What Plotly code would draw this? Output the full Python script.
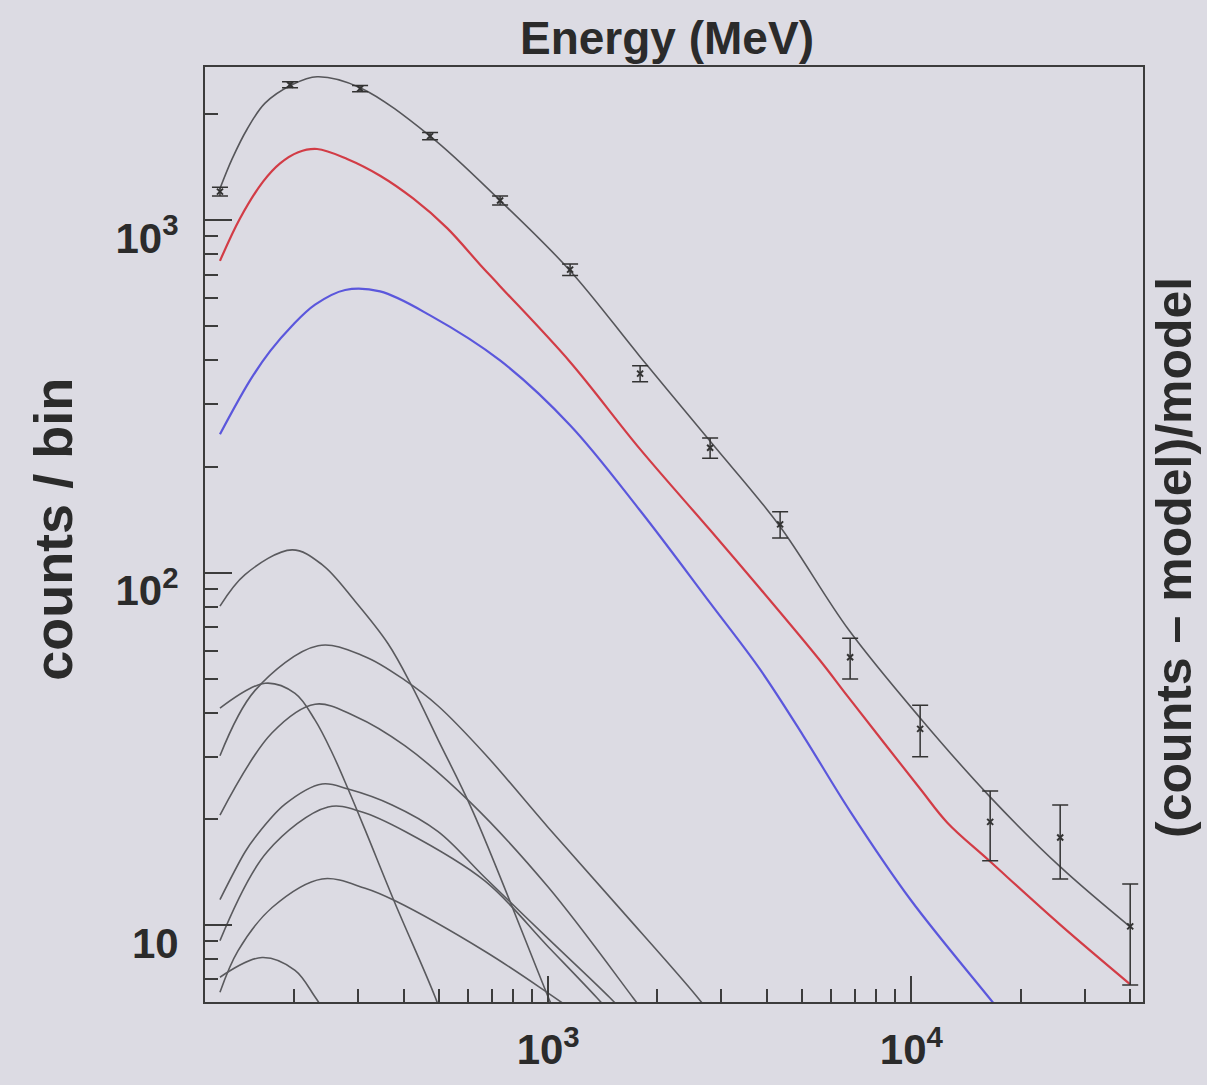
import plotly.graph_objects as go

# ---------------- data ----------------
bin_energy = [124.8, 194.6, 303.4, 472.9, 737.2, 1149.1, 1791.2, 2792.3,
              4352.5, 6784.9, 10576, 16487, 25701, 40063]
counts = [1206, 2425, 2364, 1733, 1138, 724, 367, 226, 137, 57.5, 36, 19.6, 17.7, 9.9]
count_err = [34.7, 49.2, 48.6, 41.6, 33.7, 26.9, 19.2, 15.0, 11.7, 7.6, 6.0, 4.4, 4.2, 3.15]

total_e = [124.8, 134.8, 148.2, 166.1, 197.2, 231, 303.4, 473, 737, 1149, 1791,
           2831, 4329, 6706, 10588, 16400, 25730, 40063]
total_v = [1230, 1493, 1813, 2150, 2425, 2555, 2379, 1733, 1138, 719, 410,
           232, 136, 69, 38.6, 23.2, 14.6, 9.87]

red_e = [124.8, 141.8, 164, 182.7, 205, 231, 279.5, 344.5, 424.7, 527, 649.5, 737,
         1149, 1791, 2792, 3837, 5614, 6706, 10588, 12566, 16400, 25730, 40063]
red_v = [767, 1013, 1287, 1450, 1560, 1593, 1493, 1338, 1153, 950, 748, 650,
         396, 224, 132, 90, 56.2, 44.3, 24.3, 19.5, 15.2, 10, 6.78]

blue_e = [124.8, 151, 171.5, 197.2, 228.1, 276, 344.5, 473, 737, 1149, 1791,
          2792, 3837, 5041, 6784, 9943, 16822, 22668, 40063]
blue_v = [247, 351, 425, 502, 576, 634, 628, 537, 400, 262, 150,
          82, 53, 34.4, 21, 11.8, 6.0, 4.1, 1.8]

compA_e = [124.8, 146.3, 197.2, 238.5, 293.9, 362.4, 421.9, 497.7, 621.5, 1000, 1150]
compA_v = [80.3, 98.7, 116.0, 105.3, 82.9, 62.8, 47.5, 33.5, 20.9, 6.24, 4.4]

compB_e = [124.8, 155.9, 232.5, 313.3, 403.7, 497.7, 670.6, 1000, 1579, 2573, 3172]
compB_v = [30.2, 46.3, 62.0, 57.7, 49.4, 41.8, 30.5, 18.9, 11.1, 6.24, 4.72]

compC_e = [124.8, 166.1, 200.9, 228.1, 254.1, 281.2, 313.3, 378.9, 488.3, 537]
compC_v = [41.2, 48.5, 45.4, 38.1, 30.8, 24.3, 18.6, 11.5, 6.24, 4.72]

compD_e = [124.8, 173.7, 228.1, 293.9, 403.7, 609.7, 1000, 1715, 2035]
compD_v = [20.5, 35.1, 42.3, 39.1, 32.2, 22.3, 12.8, 6.20, 4.88]

compE_e = [124.8, 146.3, 155.9, 188.6, 238.5, 281.2, 371.7, 497.7, 670.6, 1000, 1482, 1792]
compE_v = [11.8, 16.1, 17.7, 22.0, 25.1, 24.3, 21.9, 18.4, 13.6, 9.14, 6.20, 5.04]

compF_e = [124.8, 168.2, 247.7, 307.3, 403.7, 670.6, 1000, 1364, 1630]
compF_v = [9.02, 16.1, 21.6, 20.9, 18.4, 13.3, 8.67, 6.2, 5.04]

compG_e = [124.8, 140, 173.7, 238.5, 313.3, 378.9, 670.6, 1000, 1390]
compG_v = [6.44, 8.45, 11.2, 13.5, 12.7, 11.7, 8.4, 6.4, 5.04]

compH_e = [124.8, 163.0, 200.9, 228.1, 250.8]
compH_v = [7.1, 8.08, 7.43, 6.24, 5.37]

x_major = [1000, 10000]
x_major_text = ["10<sup>3</sup>", "10<sup>4</sup>"]
x_minor = [200, 300, 400, 500, 600, 700, 800, 900,
           2000, 3000, 4000, 5000, 6000, 7000, 8000, 9000,
           20000, 30000, 40000]
y_major = [10, 100, 1000]
y_major_text = ["10", "10<sup>2</sup>", "10<sup>3</sup>"]
y_minor = [7, 8, 9, 20, 30, 40, 50, 60, 70, 80, 90,
           200, 300, 400, 500, 600, 700, 800, 900, 2000]

# ---------------- figure ----------------
BG = "#dcdbe3"
AX = "#3c3c3c"
TXT = "#2b2b2b"
FONT = "Liberation Sans, Arial, Helvetica, sans-serif"

fig = go.Figure()

components = [(compA_e, compA_v), (compB_e, compB_v), (compC_e, compC_v),
              (compD_e, compD_v), (compE_e, compE_v), (compF_e, compF_v),
              (compG_e, compG_v), (compH_e, compH_v)]
for ce, cv in components:
    fig.add_trace(go.Scatter(x=ce, y=cv, mode="lines",
                             line=dict(color="#5a5a5e", width=1.6, shape="spline"),
                             hoverinfo="skip"))

fig.add_trace(go.Scatter(x=blue_e, y=blue_v, mode="lines",
                         line=dict(color="#5b57dc", width=2.2, shape="spline")))
fig.add_trace(go.Scatter(x=red_e, y=red_v, mode="lines",
                         line=dict(color="#d23c46", width=2.2, shape="spline")))
fig.add_trace(go.Scatter(x=total_e, y=total_v, mode="lines",
                         line=dict(color="#56565a", width=1.6, shape="spline")))
fig.add_trace(go.Scatter(x=bin_energy, y=counts, mode="markers",
                         marker=dict(symbol="x-thin", size=6,
                                     line=dict(width=2, color="#333333"),
                                     color="#333333"),
                         error_y=dict(type="data", array=count_err, visible=True,
                                      width=8, thickness=1.5, color="#333333")))

axis_common = dict(
    type="log", showline=True, linecolor=AX, linewidth=2, mirror=True,
    ticks="inside", tickcolor=AX, tickwidth=1.5, showgrid=False, zeroline=False,
    tickfont=dict(family=FONT, size=42, color=TXT, weight="bold"),
)

fig.update_layout(
    width=1207, height=1085,
    margin=dict(l=205, r=64, t=67, b=73),
    paper_bgcolor=BG, plot_bgcolor=BG,
    showlegend=False,
    xaxis=dict(**axis_common, range=[2.055, 4.638], ticklen=26,
               tickmode="array", tickvals=x_major, ticktext=x_major_text,
               ticklabelstandoff=10,
               minor=dict(tickvals=x_minor, ticks="inside", ticklen=13,
                          tickwidth=1.5, tickcolor=AX, showgrid=False)),
    yaxis=dict(**axis_common, range=[0.781, 3.435], ticklen=27,
               tickmode="array", tickvals=y_major, ticktext=y_major_text,
               ticklabelstandoff=16, ticklabelshift=18,
               minor=dict(tickvals=y_minor, ticks="inside", ticklen=13,
                          tickwidth=1.5, tickcolor=AX, showgrid=False)),
    annotations=[
        dict(text="<b>Energy (MeV)</b>", xref="paper", yref="paper",
             x=0.4925, y=1.0307, xanchor="center", yanchor="middle",
             showarrow=False, font=dict(family=FONT, size=46, color=TXT)),
        dict(text="<b>counts / bin</b>", xref="paper", yref="paper",
             x=-0.162, y=0.505, xanchor="center", yanchor="middle", textangle=-90,
             showarrow=False, font=dict(family=FONT, size=54, color=TXT)),
        dict(text="<b>(counts \u2013 model)/model</b>", xref="paper", yref="paper",
             x=1.033, y=0.476, xanchor="center", yanchor="middle", textangle=-90,
             showarrow=False, font=dict(family=FONT, size=50, color=TXT)),
    ],
)

fig.write_html("out.html")
